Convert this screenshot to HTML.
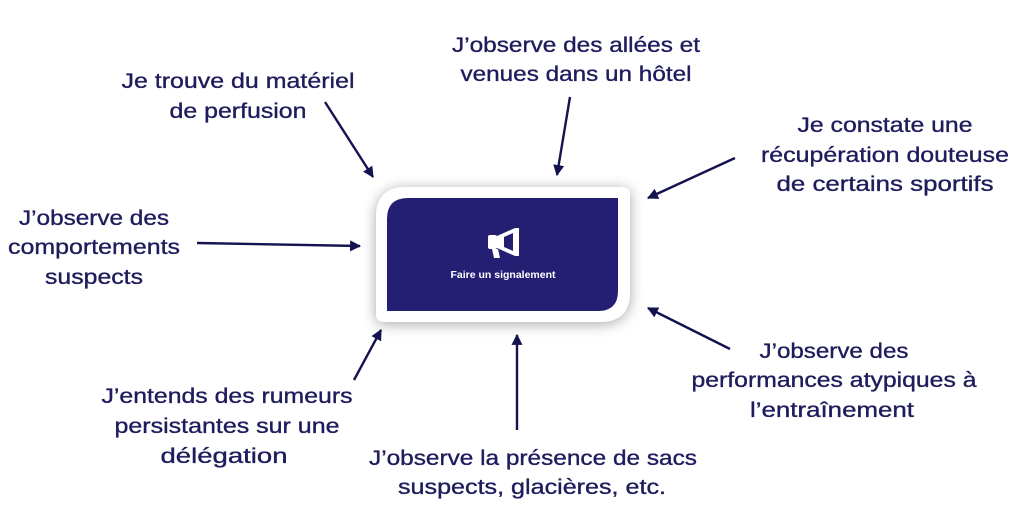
<!DOCTYPE html>
<html><head><meta charset="utf-8"><style>
html,body{margin:0;padding:0;background:#fff;width:1024px;height:511px;overflow:hidden}
svg text{font-family:"Liberation Sans",sans-serif;font-size:21px;fill:#1f1c5c;stroke:#1f1c5c;stroke-width:0.35;text-anchor:middle}
</style></head><body>
<svg width="1024" height="511" viewBox="0 0 1024 511" xmlns="http://www.w3.org/2000/svg">
<defs>
<filter id="sh" x="-20%" y="-30%" width="140%" height="160%"><feGaussianBlur in="SourceAlpha" stdDeviation="7"/><feOffset dx="0" dy="2"/><feComponentTransfer><feFuncA type="linear" slope="0.35"/></feComponentTransfer><feMerge><feMergeNode/><feMergeNode in="SourceGraphic"/></feMerge></filter>
<marker id="ah" viewBox="0 0 10 10" refX="9" refY="5" markerWidth="4.6" markerHeight="4.6" orient="auto"><path d="M0,0 L10,5 L0,10 z" fill="#14134f"/></marker>
</defs>
<path d="M406,187 H622 Q630,187 630,195 V292 Q630,322 600,322 H384 Q376,322 376,314 V217 Q376,187 406,187 Z" fill="#fff" filter="url(#sh)"/>
<path d="M408,198 H618 V291 Q618,311 598,311 H387 V219 Q387,198 408,198 Z" fill="#251f73"/>
<g fill="#fff">
<rect x="488" y="235" width="9" height="14" rx="2"/>
<path d="M497,236 L515,228 L519,228 L519,256 L515,256 L497,248 Z"/>
<path d="M492,249 h6 l2,9 h-6 z"/>
</g>
<path d="M504,237 L513,233 L513,251 L504,247 Z" fill="#251f73"/>
<text x="503" y="278" style="font-size:10.5px;font-weight:bold;fill:#fff;stroke:none">Faire un signalement</text>
<g stroke="#14134f" stroke-width="2.4" fill="none" marker-end="url(#ah)">
<line x1="325" y1="102" x2="373" y2="177"/>
<line x1="570" y1="97" x2="557" y2="175"/>
<line x1="735" y1="158" x2="648" y2="198"/>
<line x1="197" y1="243" x2="360" y2="246"/>
<line x1="354" y1="380" x2="381" y2="330"/>
<line x1="517" y1="430" x2="517" y2="335"/>
<line x1="730" y1="349" x2="648" y2="308"/>
</g>
<text x="238" y="88" textLength="233" lengthAdjust="spacingAndGlyphs">Je trouve du matériel</text>
<text x="238" y="118" textLength="137" lengthAdjust="spacingAndGlyphs">de perfusion</text>
<text x="576" y="52" textLength="248" lengthAdjust="spacingAndGlyphs">J’observe des allées et</text>
<text x="576" y="81" textLength="231" lengthAdjust="spacingAndGlyphs">venues dans un hôtel</text>
<text x="885" y="132" textLength="175" lengthAdjust="spacingAndGlyphs">Je constate une</text>
<text x="885" y="162" textLength="248" lengthAdjust="spacingAndGlyphs">récupération douteuse</text>
<text x="885" y="191" textLength="217" lengthAdjust="spacingAndGlyphs">de certains sportifs</text>
<text x="94" y="225" textLength="150" lengthAdjust="spacingAndGlyphs">J’observe des</text>
<text x="94" y="254" textLength="172" lengthAdjust="spacingAndGlyphs">comportements</text>
<text x="94" y="284" textLength="98" lengthAdjust="spacingAndGlyphs">suspects</text>
<text x="227" y="403" textLength="251" lengthAdjust="spacingAndGlyphs">J’entends des rumeurs</text>
<text x="227" y="433" textLength="225" lengthAdjust="spacingAndGlyphs">persistantes sur une</text>
<text x="224" y="463" textLength="127" lengthAdjust="spacingAndGlyphs">délégation</text>
<text x="533" y="465" textLength="328" lengthAdjust="spacingAndGlyphs">J’observe la présence de sacs</text>
<text x="532" y="494" textLength="268" lengthAdjust="spacingAndGlyphs">suspects, glacières, etc.</text>
<text x="834" y="358" textLength="149" lengthAdjust="spacingAndGlyphs">J’observe des</text>
<text x="834" y="387" textLength="285" lengthAdjust="spacingAndGlyphs">performances atypiques à</text>
<text x="832" y="417" textLength="164" lengthAdjust="spacingAndGlyphs">l’entraînement</text>
</svg>
</body></html>
